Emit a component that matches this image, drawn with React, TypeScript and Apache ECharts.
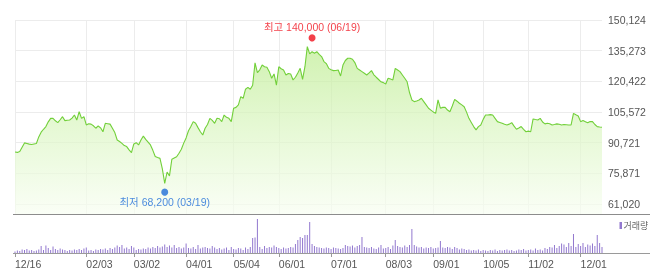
import React, { useEffect, useRef } from 'react';
import * as echarts from 'echarts';

const prices = [
  86200, 86000, 86400, 88500, 90600, 90300, 90000, 89800, 90100, 90300,
  93500, 95800, 97200, 98500, 100800, 102500, 102500, 101300, 100400, 101800,
  103300, 101400, 101600, 101700, 102600, 104100, 101700, 105700, 102500, 103300,
  99300, 99900, 99700, 98900, 97700, 98800, 97900, 96000, 100100, 99900,
  99700, 97700, 95600, 92000, 91300, 90400, 89300, 88800, 87200, 85900,
  90100, 90700, 89600, 92000, 93900, 92300, 91000, 89600, 87000, 84000,
  83500, 83100, 78000, 71000, 76500, 74600, 82700, 83300, 83900, 85600,
  87500, 90500, 93000, 96500, 98500, 100900, 100100, 98000, 96000, 94400,
  97700, 99500, 102500, 101500, 100100, 102500, 102300, 100900, 104100, 103000,
  102500, 100900, 107400, 107800, 109000, 113000, 112200, 116600, 117500, 116600,
  118500, 129400, 124600, 126000, 128300, 127500, 127200, 125100, 121900, 124000,
  118600, 127500, 126500, 125900, 123500, 124200, 124000, 121100, 122400, 124500,
  126700, 121400, 127500, 137200, 133700, 134800, 134000, 134800, 133500, 132400,
  130000, 129000, 126700, 126000, 125600, 125700, 125900, 123000, 128300, 130500,
  131600, 131600, 131100, 129500, 126700, 125900, 125100, 124300, 123500, 124500,
  125600, 123600, 122400, 121300, 120200, 119800, 119100, 121900, 121500, 121100,
  126700, 125900, 125100, 123500, 121900, 120200, 115000, 111400, 110600, 110900,
  111400, 112200, 110600, 109000, 107400, 106500, 105600, 104900, 111400, 107400,
  107800, 107800, 106500, 105700, 108500, 111700, 110800, 109800, 109000, 108100,
  105500, 102500, 100500, 98500, 96900, 98500, 99300, 102000, 104100, 104100,
  104300, 104100, 102500, 100900, 100500, 100100, 99600, 99300, 99700, 100400,
  98700, 97200, 97800, 98500, 97200, 96000, 96300, 96000, 102200, 101900,
  101700, 102500, 100700, 99800, 100100, 99900, 99300, 99500, 99800, 99600,
  99300, 99500, 99400, 99300, 99300, 104900, 104200, 103600, 100900, 101400,
  100900, 100400, 101000, 100900, 99500, 98500, 98300, 98200,
];

const volumes = [
  15, 25, 20, 35, 30, 40, 25, 30, 20, 25,
  35, 70, 30, 75, 50, 30, 65, 40, 30, 45,
  35, 30, 20, 30, 25, 35, 30, 40, 30, 45,
  55, 25, 30, 20, 35, 30, 40, 35, 45, 30,
  50, 40, 55, 75, 60, 80, 45, 55, 40, 70,
  55, 30, 40, 35, 45, 40, 55, 45, 60, 50,
  70, 55, 65, 85, 60, 75, 55, 80, 50, 60,
  45, 55, 95, 50, 45, 60, 40, 80, 45, 55,
  60, 50, 45, 70, 55, 40, 50, 35, 45, 55,
  30, 60, 40, 35, 50, 45, 30, 55, 40, 60,
  150, 155, 340, 60, 40, 70, 50, 60, 55, 75,
  60, 50, 40, 55, 45, 50, 60, 55, 90, 130,
  160, 150, 180, 180, 310, 90, 70, 60, 55, 50,
  45, 55, 50, 40, 55, 50, 45, 40, 50, 80,
  70, 65, 75, 55, 70, 80, 160, 60, 55, 50,
  60, 45, 40, 55, 80, 45, 50, 60, 40, 75,
  130, 70, 60, 55, 75, 60, 80, 240, 80, 65,
  55, 60, 45, 55, 50, 60, 45, 50, 55, 120,
  55, 50, 60, 55, 40, 60, 50, 35, 45, 40,
  30, 35, 25, 30, 25, 35, 20, 30, 25, 20,
  30, 25, 35, 20, 30, 25, 30, 35, 25, 30,
  20, 25, 35, 30, 40, 25, 30, 35, 25, 45,
  30, 35, 25, 50, 40, 60, 55, 80, 50, 70,
  95, 85, 60, 100, 70, 190, 60, 90, 70, 100,
  60, 85, 75, 95, 70, 180, 100, 60,
];

const tickIndices = [0, 30, 50, 72, 92, 111, 133, 156, 176, 197, 216, 238];
const tickLabels = ['12/16', '02/03', '03/02', '04/01', '05/04', '06/01', '07/01', '08/03', '09/01', '10/05', '11/02', '12/01'];

const priceTickValues = [61020, 75870.67, 90721.33, 105572, 120422.67, 135273.33, 150124];
const priceTickLabels = ['61,020', '75,871', '90,721', '105,572', '120,422', '135,273', '150,124'];

const highIndex = 125;
const highValue = 140000;
const highLabel = '최고 140,000 (06/19)';
const lowIndex = 63;
const lowValue = 68200;
const lowLabel = '최저 68,200 (03/19)';
const volumeName = '거래량';

const FONT = "'Liberation Sans', Arial, 'Noto Sans CJK KR', sans-serif";

export default function App() {
  const ref = useRef<HTMLDivElement>(null);
  useEffect(() => {
    const chart = echarts.init(ref.current!, null, { renderer: 'svg' });
    const cats = prices.map((_, i) => String(i));
    const tickSet = new Set(tickIndices);
    const showAt = (index: number) => tickSet.has(index);

    chart.setOption({
      animation: false,
      textStyle: { fontFamily: FONT },
      grid: [
        { left: 15, right: 48, top: 20, height: 194 },
        { left: 15, right: 48, top: 215, height: 38 },
      ],
      xAxis: [
        {
          type: 'category',
          gridIndex: 0,
          data: cats,
          boundaryGap: false,
          axisLine: { show: false },
          axisTick: { show: false },
          axisLabel: { show: false },
          splitLine: { show: true, interval: showAt, lineStyle: { color: '#ececec', width: 1 } },
        },
        {
          type: 'category',
          gridIndex: 1,
          data: cats,
          boundaryGap: false,
          axisLine: { show: false },
          axisTick: { show: true, interval: showAt, length: 4, lineStyle: { color: '#999' } },
          axisLabel: {
            interval: showAt,
            align: 'left',
            margin: 6,
            fontSize: 10.5,
            color: '#555',
            fontFamily: FONT,
            formatter: (_v: string, idx: number) => {
              const k = tickIndices.indexOf(idx);
              return k >= 0 ? tickLabels[k] : '';
            },
          },
          splitLine: { show: false },
        },
      ],
      yAxis: [
        {
          type: 'value',
          gridIndex: 0,
          position: 'right',
          min: 56164,
          max: 150124,
          axisLine: { show: false },
          axisTick: { show: false, customValues: priceTickValues },
          axisLabel: {
            customValues: priceTickValues,
            margin: 6,
            fontSize: 10.5,
            color: '#555',
            fontFamily: FONT,
            formatter: (v: number) => {
              let best = 0;
              for (let i = 0; i < priceTickValues.length; i++) {
                if (Math.abs(priceTickValues[i] - v) < Math.abs(priceTickValues[best] - v)) best = i;
              }
              return priceTickLabels[best];
            },
          },
          splitLine: { show: true, lineStyle: { color: '#ececec', width: 1 } },
        },
        {
          type: 'value',
          gridIndex: 1,
          min: 0,
          max: 380,
          show: false,
          splitLine: { show: false },
        },
      ],
      series: [
        {
          type: 'line',
          xAxisIndex: 0,
          yAxisIndex: 0,
          data: prices,
          symbol: 'none',
          silent: true,
          lineStyle: { color: '#72d03a', width: 1.1 },
          areaStyle: {
            origin: 'start',
            color: new echarts.graphic.LinearGradient(0, 0, 0, 1, [
              { offset: 0, color: '#bdec90' },
              { offset: 0.5, color: '#dcf6c4' },
              { offset: 1, color: '#f8fef2' },
            ]),
          },
        },
        {
          type: 'scatter',
          xAxisIndex: 0,
          yAxisIndex: 0,
          data: [[highIndex, highValue]],
          symbolSize: 7,
          symbolOffset: [0, -3],
          itemStyle: { color: '#f0101c' },
          label: {
            show: true,
            position: 'top',
            distance: 2,
            formatter: highLabel,
            color: '#f0101c',
            fontSize: 10.5,
            fontFamily: FONT,
          },
          z: 5,
        },
        {
          type: 'scatter',
          xAxisIndex: 0,
          yAxisIndex: 0,
          data: [[lowIndex, lowValue]],
          symbolSize: 7,
          symbolOffset: [0, 3],
          itemStyle: { color: '#1f6ed8' },
          label: {
            show: true,
            position: 'bottom',
            distance: 1,
            formatter: lowLabel,
            color: '#1f6ed8',
            fontSize: 10.5,
            fontFamily: FONT,
          },
          z: 5,
        },
        {
          type: 'bar',
          name: volumeName,
          xAxisIndex: 1,
          yAxisIndex: 1,
          data: volumes,
          barWidth: 1,
          silent: true,
          itemStyle: { color: '#9278cf' },
        },
      ],
      graphic: [
        {
          type: 'line',
          shape: { x1: 13, y1: 214.5, x2: 650, y2: 214.5 },
          style: { stroke: '#8c8c8c', lineWidth: 1 },
          z: 100,
        },
        {
          type: 'line',
          shape: { x1: 13, y1: 253.5, x2: 650, y2: 253.5 },
          style: { stroke: '#9a9a9a', lineWidth: 1 },
          z: 100,
        },
        {
          type: 'rect',
          shape: { x: 619.5, y: 222, width: 2.5, height: 7 },
          style: { fill: '#9278cf' },
          z: 100,
        },
        {
          type: 'text',
          x: 623.5,
          y: 225.5,
          style: {
            text: volumeName,
            fill: '#666',
            fontSize: 9,
            fontFamily: "'Noto Sans CJK KR', sans-serif",
            verticalAlign: 'middle',
          },
          z: 100,
        },
      ],
    });
    return () => chart.dispose();
  }, []);
  return <div ref={ref} style={{ position: 'fixed', left: 0, top: 0, width: 650, height: 276 }} />;
}
